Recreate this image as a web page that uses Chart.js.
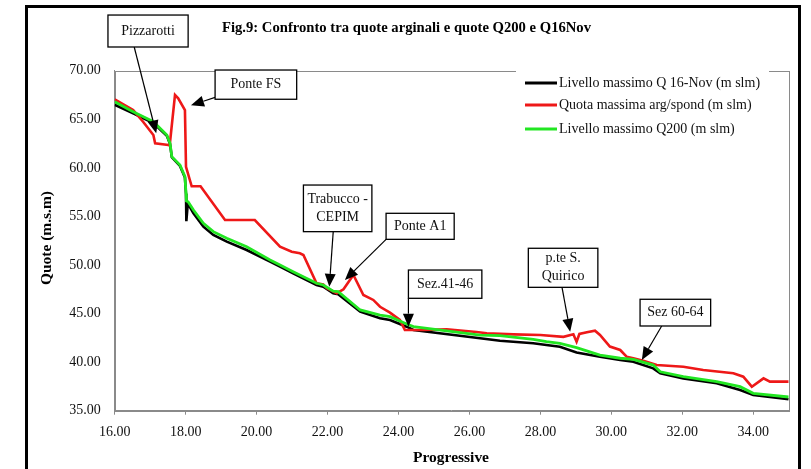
<!DOCTYPE html>
<html>
<head>
<meta charset="utf-8">
<script src="https://cdn.jsdelivr.net/npm/chart.js@4/dist/chart.umd.min.js"></script>
<style>
html,body{margin:0;padding:0;background:#fff;}
#wrap{width:811px;height:469px;position:relative;}
</style>
</head>
<body>
<div id="wrap"><canvas id="c" width="811" height="469"></canvas></div>
<script>
// ---- Data ----
const seriesNames = [
  'Livello massimo Q 16-Nov (m slm)',
  'Quota massima arg/spond (m slm)',
  'Livello massimo Q200 (m slm)'
];

// Livello massimo Q 16-Nov
const progBlack = [16.0,16.52,17.09,17.47,17.56,17.61,17.84,17.98,18.01,18.02,18.06,18.22,18.5,18.78,19.16,19.72,20.38,20.66,21.03,21.69,21.88,22.16,22.3,22.92,23.48,23.76,24.23,24.42,26.3,26.86,27.8,28.17,28.55,29.02,29.68,30.25,30.62,31.18,31.38,32.03,32.97,33.63,34.0,35.0];
const quoteBlack = [66.5,65.61,64.6,63.3,62.45,61.1,60.2,59.0,57.3,54.5,56.35,55.32,53.94,53.09,52.4,51.54,50.34,49.83,49.14,47.94,47.77,47.09,47.0,45.2,44.51,44.34,43.65,43.31,42.45,42.2,41.94,41.76,41.59,41.0,40.56,40.22,40.04,39.36,38.85,38.33,37.82,37.13,36.62,36.17];

// Quota massima arg/spond
const progRed = [16.0,16.52,16.8,17.09,17.14,17.51,17.55,17.70,17.79,17.98,18.01,18.17,18.42,19.11,19.95,20.66,20.99,21.22,21.32,21.69,21.88,21.98,22.26,22.45,22.63,22.73,23.01,23.29,23.48,23.76,24.04,24.18,24.70,25.36,26.2,26.49,27.24,28.0,28.65,28.93,29.02,29.1,29.31,29.54,29.68,29.96,30.25,30.43,30.62,30.9,31.28,32.03,32.59,33.44,33.72,33.96,34.29,34.47,35.0];
const quoteRed = [67.05,65.95,64.75,63.38,62.53,62.35,62.3,67.5,67.16,65.95,60.1,58.1,58.1,54.63,54.63,51.88,51.37,51.2,51.03,48.12,48.0,47.6,47.1,47.5,48.45,48.97,46.91,46.4,45.7,45.1,44.34,43.31,43.31,43.38,43.1,42.97,42.86,42.79,42.6,42.86,42.1,42.9,43.07,43.24,42.8,41.6,41.25,40.56,40.4,40.15,39.7,39.53,39.19,38.85,38.5,37.47,38.33,37.99,37.99];

// Livello massimo Q200
const progGreen = [16.0,16.52,17.09,17.47,17.56,17.61,17.84,17.98,18.01,18.02,18.07,18.22,18.5,18.78,19.16,19.72,20.38,20.66,21.03,21.69,21.88,22.16,22.3,22.92,23.48,23.76,24.23,24.42,26.3,26.86,27.8,28.17,28.55,29.02,29.68,30.25,30.62,31.18,31.38,32.03,32.97,33.63,34.0,35.0];
const quoteGreen = [66.8,65.78,64.75,63.38,62.53,61.15,60.29,59.09,57.38,56.6,56.5,55.66,54.29,53.43,52.75,51.88,50.51,50.0,49.31,48.12,47.94,47.3,47.25,45.37,44.85,44.68,43.93,43.65,42.79,42.72,42.35,42.1,41.94,41.5,40.73,40.4,40.29,39.7,39.01,38.5,37.99,37.47,36.79,36.41];

// Axis ranges / ticks
const xMin = 16, xMax = 35, xStep = 2;
const yMin = 35, yMax = 70, yStep = 5;

// Callout labels (placed in data units)
const callouts = [
  {lines:['Pizzarotti'],          box:[15.81,75.73,18.07,72.44], from:[16.55,72.44], to:[17.17,63.55]},
  {lines:['Ponte FS'],            box:[18.83,70.07,21.13,67.06], from:[18.83,67.25], to:[18.15,66.45]},
  {lines:['Trabucco -','CEPIM'],  box:[21.32,58.23,23.25,53.43], from:[22.16,53.43], to:[22.05,47.75]},
  {lines:['Ponte A1'],            box:[23.65,55.32,25.57,52.64], from:[23.65,52.64], to:[22.49,48.45]},
  {lines:['Sez.41-46'],           box:[24.28,49.48,26.35,46.57], from:[24.28,46.57], to:[24.28,43.65]},
  {lines:['p.te S.','Quirico'],   box:[27.66,51.72,29.62,47.70], from:[28.61,47.70], to:[28.84,43.13]},
  {lines:['Sez 60-64'],           box:[30.81,46.47,32.80,43.72], from:[31.42,43.72], to:[30.86,40.22]}
];

const colors = ['#000000', '#ee1818', '#22e622'];
const SERIF = '"Liberation Serif","DejaVu Serif",serif';

function pts(xs, ys){ return xs.map((v,i)=>({x:v, y:ys[i]})); }

function drawFit(ctx, text, x, y, w, align){
  const m = ctx.measureText(text).width;
  const s = w / m;
  ctx.save();
  ctx.translate(x, y);
  ctx.scale(s, 1);
  ctx.textAlign = 'left';
  let ox = 0;
  if (align === 'center') ox = -m/2;
  ctx.fillText(text, ox, 0);
  ctx.restore();
}

function arrow(ctx, x1, y1, x2, y2){
  const ang = Math.atan2(y2-y1, x2-x1);
  const L = 13, W = 5.5;
  const bx = x2 - L*Math.cos(ang), by = y2 - L*Math.sin(ang);
  ctx.beginPath();
  ctx.moveTo(x1, y1); ctx.lineTo(bx, by);
  ctx.strokeStyle = '#000'; ctx.lineWidth = 1.2; ctx.stroke();
  ctx.beginPath();
  ctx.moveTo(x2, y2);
  ctx.lineTo(bx - W*Math.sin(ang), by + W*Math.cos(ang));
  ctx.lineTo(bx + W*Math.sin(ang), by - W*Math.cos(ang));
  ctx.closePath();
  ctx.fillStyle = '#000'; ctx.fill();
}

const decor = {
  id: 'decor',
  beforeDatasetsDraw(chart){
    const {ctx, chartArea:a} = chart;
    ctx.save();
    ctx.strokeStyle = '#8a8a8a'; ctx.lineWidth = 1;
    ctx.strokeRect(Math.round(a.left)+0.5, Math.round(a.top)+0.5, Math.round(a.right-a.left), Math.round(a.bottom-a.top));
    ctx.restore();
  },
  afterDatasetsDraw(chart){
    const {ctx, chartArea:a, scales:{x, y}} = chart;
    ctx.save();
    // Legend (white panel over the plot border)
    ctx.fillStyle = '#fff';
    ctx.fillRect(516, 66, 253, 80);
    const rows = [83, 105, 129];
    ctx.font = '14px ' + SERIF;
    ctx.textBaseline = 'middle';
    seriesNames.forEach((n,i)=>{
      ctx.beginPath();
      ctx.moveTo(525, rows[i]); ctx.lineTo(557, rows[i]);
      ctx.strokeStyle = colors[i]; ctx.lineWidth = 3; ctx.stroke();
      ctx.fillStyle = '#111';
      ctx.textAlign = 'left';
      ctx.fillText(n, 559, rows[i]);
    });

    // Callouts
    callouts.forEach(c=>{
      const x0 = x.getPixelForValue(c.box[0]), y0 = y.getPixelForValue(c.box[1]);
      const x1 = x.getPixelForValue(c.box[2]), y1 = y.getPixelForValue(c.box[3]);
      arrow(ctx, x.getPixelForValue(c.from[0]), y.getPixelForValue(c.from[1]),
                 x.getPixelForValue(c.to[0]), y.getPixelForValue(c.to[1]));
      ctx.fillStyle = '#fff';
      ctx.fillRect(x0, y0, x1-x0, y1-y0);
      ctx.strokeStyle = '#000'; ctx.lineWidth = 1.3;
      ctx.strokeRect(x0, y0, x1-x0, y1-y0);
      ctx.fillStyle = '#111';
      ctx.font = '14px ' + SERIF;
      ctx.textAlign = 'center'; ctx.textBaseline = 'middle';
      const cx = (x0+x1)/2, cy = (y0+y1)/2;
      const lh = 18;
      c.lines.forEach((t,k)=>{
        ctx.fillText(t, cx, cy + (k - (c.lines.length-1)/2)*lh);
      });
    });

    // Title
    ctx.fillStyle = '#000';
    ctx.font = 'bold 14px ' + SERIF;
    ctx.textBaseline = 'middle';
    drawFit(ctx, 'Fig.9: Confronto tra quote arginali e quote Q200 e Q16Nov', 222, 28, 369, 'left');

    // Axis titles
    ctx.font = 'bold 14px ' + SERIF;
    drawFit(ctx, 'Progressive', 451, 458, 76, 'center');
    ctx.save();
    ctx.translate(47, 238);
    ctx.rotate(-Math.PI/2);
    drawFit(ctx, 'Quote (m.s.m)', 0, 0, 94, 'center');
    ctx.restore();

    // Outer black frame
    ctx.fillStyle = '#000';
    ctx.fillRect(25, 5, 776, 3);
    ctx.fillRect(25, 5, 3, 464);
    ctx.fillRect(798, 5, 3, 464);
    ctx.restore();
  }
};

new Chart(document.getElementById('c'), {
  type: 'line',
  data: {
    datasets: [
      {label: seriesNames[0], data: pts(progBlack, quoteBlack), borderColor: colors[0], borderWidth: 2.6, pointRadius: 0, tension: 0, order: 3},
      {label: seriesNames[1], data: pts(progRed, quoteRed), borderColor: colors[1], borderWidth: 2.6, pointRadius: 0, tension: 0, order: 2},
      {label: seriesNames[2], data: pts(progGreen, quoteGreen), borderColor: colors[2], borderWidth: 2.8, pointRadius: 0, tension: 0, order: 1}
    ]
  },
  options: {
    responsive: false,
    animation: false,
    layout: {padding: {top: 70.7, left: 0, right: 22.3, bottom: 0}},
    plugins: {legend: {display: false}, tooltip: {enabled: false}, title: {display: false}},
    scales: {
      x: {
        type: 'linear', min: xMin, max: xMax,
        afterFit(s){ s.height = 469 - 410.7; },
        afterBuildTicks(s){ s.ticks = s.ticks.filter(t => (t.value - xMin) % xStep === 0); },
        ticks: {stepSize: xStep, includeBounds: false, padding: 9, color: '#111',
                font: {family: SERIF, size: 14}, maxRotation: 0,
                callback: v => Number(v).toFixed(2)},
        grid: {drawOnChartArea: false, drawTicks: true, tickLength: 4, color: '#8a8a8a'},
        border: {color: '#8a8a8a'}
      },
      y: {
        min: yMin, max: yMax,
        afterFit(s){ s.width = 114.7; },
        ticks: {stepSize: yStep, padding: 14, color: '#111',
                font: {family: SERIF, size: 14},
                callback: v => Number(v).toFixed(2)},
        grid: {drawOnChartArea: false, drawTicks: false},
        border: {color: '#8a8a8a'}
      }
    }
  },
  plugins: [decor]
});
</script>
</body>
</html>
